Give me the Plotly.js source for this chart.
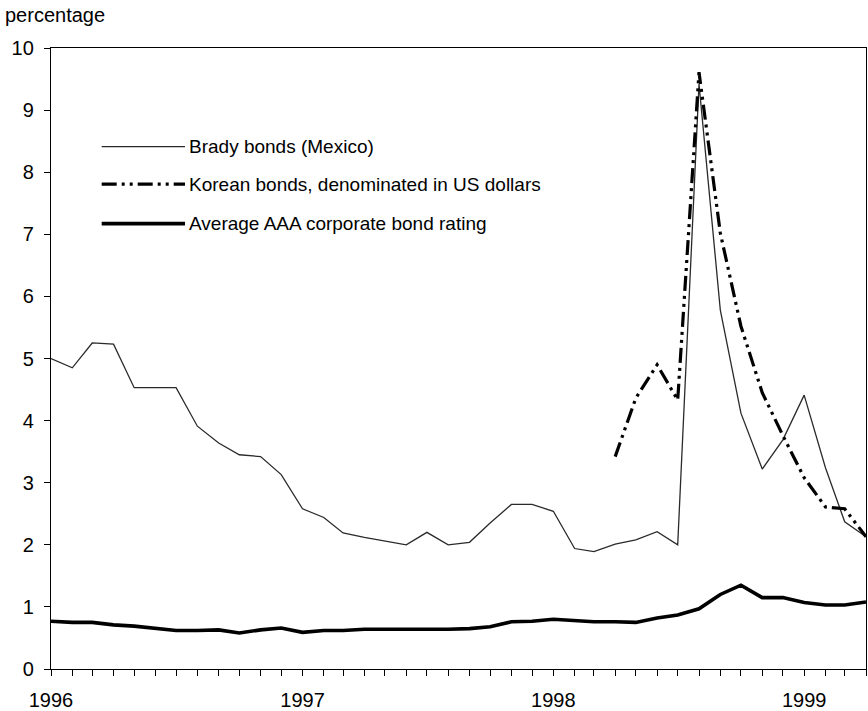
<!DOCTYPE html>
<html>
<head>
<meta charset="utf-8">
<script src="https://cdn.plot.ly/plotly-3.0.1.min.js"></script>
<style>html,body{margin:0;padding:0;background:#fff;}#chart{width:868px;height:711px;}</style>
</head>
<body>
<div id="chart"></div>
<script>
// Monthly observations, Jan 1996 .. Apr 1999
var months = [];
for (var y = 1996; y <= 1999; y++) {
  for (var m = 1; m <= 12; m++) {
    if (y === 1999 && m > 4) break;
    months.push(y + '-' + (m < 10 ? '0' + m : m) + '-01');
  }
}

var bradyMexico = [5.00, 4.85, 5.25, 5.23, 4.53, 4.53, 4.53, 3.91, 3.64, 3.45, 3.42, 3.13,
                   2.58, 2.44, 2.19, 2.12, 2.06, 2.00, 2.20, 2.00, 2.04, 2.35, 2.65, 2.65,
                   2.54, 1.94, 1.89, 2.01, 2.08, 2.21, 2.00, 9.42, 5.78, 4.12, 3.22, 3.69,
                   4.41, 3.24, 2.37, 2.13];

var koreanUSD = [null, null, null, null, null, null, null, null, null, null, null, null,
                 null, null, null, null, null, null, null, null, null, null, null, null,
                 null, null, null, 3.42, 4.36, 4.90, 4.33, 9.61, 7.02, 5.52, 4.45, 3.76,
                 3.08, 2.61, 2.58, 2.13];

var aaaCorporate = [0.77, 0.75, 0.75, 0.71, 0.69, 0.65, 0.62, 0.62, 0.63, 0.58, 0.63, 0.66,
                    0.59, 0.62, 0.62, 0.64, 0.64, 0.64, 0.63, 0.64, 0.65, 0.68, 0.76, 0.77,
                    0.80, 0.78, 0.76, 0.76, 0.75, 0.82, 0.87, 0.97, 1.20, 1.35, 1.15, 1.15,
                    1.07, 1.03, 1.03, 1.08];

var seriesNames = ['Brady bonds (Mexico)', 'Korean bonds, denominated in US dollars', 'Average AAA corporate bond rating'];
var yTicks = [0, 1, 2, 3, 4, 5, 6, 7, 8, 9, 10];
var xTickVals = ['1996-01-01', '1997-01-01', '1998-01-01', '1999-01-01'];
var xTickText = ['1996', '1997', '1998', '1999'];

var koreanDash = '15px,5px,3px,5px,3px,5px';
var FONT = 'Liberation Sans, Arial, Helvetica, sans-serif';

var traces = [
  {x: months, y: bradyMexico, type: 'scatter', mode: 'lines', name: seriesNames[0],
   line: {color: '#2a2a2a', width: 1.3}, connectgaps: false},
  {x: months, y: koreanUSD, type: 'scatter', mode: 'lines', name: seriesNames[1],
   line: {color: '#000', width: 3.2, dash: koreanDash}, connectgaps: false},
  {x: months, y: aaaCorporate, type: 'scatter', mode: 'lines', name: seriesNames[2],
   line: {color: '#000', width: 3.6}}
];

// custom legend (paper coords)
var legY = [0.8411, 0.7807, 0.7172];
var legX0 = 0.0622, legX1 = 0.1644, legTX = 0.1666;
var legStyles = [
  {color: '#2a2a2a', width: 1.3, dash: 'solid'},
  {color: '#000', width: 3.2, dash: koreanDash},
  {color: '#000', width: 3.6, dash: 'solid'}
];
var shapes = [], annotations = [];
for (var i = 0; i < 3; i++) {
  shapes.push({type: 'line', xref: 'paper', yref: 'paper', x0: legX0, x1: legX1, y0: legY[i], y1: legY[i],
               line: legStyles[i]});
  annotations.push({xref: 'paper', yref: 'paper', x: legTX, y: legY[i], xanchor: 'left', yanchor: 'middle',
                    text: seriesNames[i], showarrow: false, font: {family: FONT, size: 19, color: '#000'}});
}
annotations.push({xref: 'paper', yref: 'paper', x: -0.0595, y: 1.0526, xanchor: 'left', yanchor: 'middle',
                  text: 'percentage', showarrow: false, font: {family: FONT, size: 20, color: '#000'}});

var layout = {
  width: 868, height: 711,
  margin: {l: 51, r: 2, t: 48, b: 42},
  paper_bgcolor: '#fff', plot_bgcolor: '#fff',
  showlegend: false,
  font: {family: FONT, size: 20, color: '#000'},
  xaxis: {
    type: 'date', range: ['1996-01-01', '1999-04-01'],
    tickvals: xTickVals, ticktext: xTickText,
    ticks: 'outside', ticklen: 6, tickwidth: 1, tickcolor: '#000',
    minor: {dtick: 'M1', tick0: '1996-01-01', ticks: 'outside', ticklen: 6, tickwidth: 1, tickcolor: '#000', showgrid: false},
    showgrid: false, zeroline: false,
    showline: true, linecolor: '#000', linewidth: 1.2, mirror: true,
    tickfont: {family: FONT, size: 20}, ticklabelstandoff: 7
  },
  yaxis: {
    range: [0, 10], tickvals: yTicks,
    ticks: 'outside', ticklen: 6, tickwidth: 1, tickcolor: '#000',
    showgrid: false, zeroline: false,
    showline: true, linecolor: '#000', linewidth: 1.2, mirror: true,
    tickfont: {family: FONT, size: 20}, ticklabelstandoff: 6
  },
  shapes: shapes,
  annotations: annotations
};

Plotly.newPlot('chart', traces, layout, {displayModeBar: false, staticPlot: true});
</script>
</body>
</html>
